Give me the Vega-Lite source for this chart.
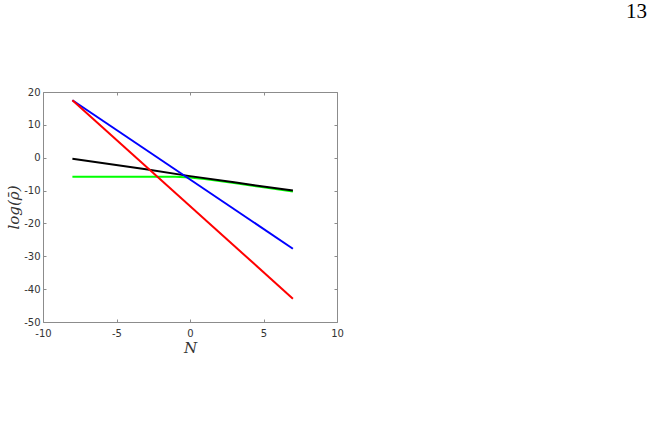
{
  "$schema": "https://vega.github.io/schema/vega-lite/v6.json",
  "autosize": {"type": "none"},
  "width": 294,
  "height": 230,
  "padding": {"left": 43, "top": 92, "right": 318, "bottom": 107},
  "background": "white",
  "title": {
    "text": "13",
    "orient": "top",
    "anchor": "end",
    "frame": "group",
    "font": "Liberation Serif",
    "fontSize": 21,
    "fontWeight": "normal",
    "color": "#000000",
    "baseline": "alphabetic",
    "offset": 48,
    "dx": 310
  },
  "config": {
    "view": {"stroke": "#8c8c8c", "strokeWidth": 1},
    "axis": {
      "grid": false,
      "domain": false,
      "labelFlush": false,
      "labelExpr": "toString(datum.value)",
      "tickColor": "#8c8c8c",
      "tickSize": -3,
      "labelFont": "DejaVu Sans",
      "labelFontSize": 10,
      "labelColor": "#333333",
      "titleFont": "DejaVu Serif",
      "titleFontStyle": "italic",
      "titleFontWeight": "normal",
      "titleColor": "#333333",
      "titleFontSize": 15
    }
  },
  "data": {
    "values": [
      {"series": "green", "N": -8, "logrho": -5.8},
      {"series": "green", "N": -1, "logrho": -5.8},
      {"series": "green", "N": 0, "logrho": -6.0},
      {"series": "green", "N": 1, "logrho": -6.5},
      {"series": "green", "N": 3, "logrho": -7.7},
      {"series": "green", "N": 5, "logrho": -9.0},
      {"series": "green", "N": 7, "logrho": -10.3},
      {"series": "black", "N": -8, "logrho": -0.35},
      {"series": "black", "N": -3, "logrho": -3.5},
      {"series": "black", "N": 0, "logrho": -5.6},
      {"series": "black", "N": 3, "logrho": -7.5},
      {"series": "black", "N": 7, "logrho": -10.0},
      {"series": "blue", "N": -8, "logrho": 17.5},
      {"series": "blue", "N": 7, "logrho": -27.7},
      {"series": "red", "N": -8, "logrho": 17.5},
      {"series": "red", "N": 7, "logrho": -42.9}
    ]
  },
  "layer": [
    {
      "mark": {"type": "line", "strokeWidth": 2, "clip": true},
      "encoding": {
        "x": {
          "field": "N",
          "type": "quantitative",
          "scale": {"domain": [-10, 10], "nice": false, "zero": false},
          "axis": {"orient": "bottom", "values": [-10, -5, 0, 5, 10], "title": "N", "labelPadding": 9, "titlePadding": 2}
        },
        "y": {
          "field": "logrho",
          "type": "quantitative",
          "scale": {"domain": [-50, 20], "nice": false, "zero": false},
          "axis": {"orient": "left", "values": [-50, -40, -30, -20, -10, 0, 10, 20], "title": "log(ρ̄)", "labelPadding": 6, "titlePadding": 2}
        },
        "color": {
          "field": "series",
          "type": "nominal",
          "scale": {"domain": ["green", "black", "blue", "red"], "range": ["#00ff00", "#000000", "#0000ff", "#ff0000"]},
          "legend": null
        }
      }
    },
    {
      "mark": {"type": "line", "opacity": 0},
      "encoding": {
        "x": {
          "field": "N",
          "type": "quantitative",
          "scale": {"domain": [-10, 10], "nice": false, "zero": false},
          "axis": {"orient": "top", "values": [-10, -5, 0, 5, 10], "labels": false, "title": null}
        },
        "y": {
          "field": "logrho",
          "type": "quantitative",
          "scale": {"domain": [-50, 20], "nice": false, "zero": false},
          "axis": {"orient": "right", "values": [-50, -40, -30, -20, -10, 0, 10, 20], "labels": false, "title": null}
        },
        "detail": {"field": "series"}
      }
    }
  ],
  "resolve": {"axis": {"x": "independent", "y": "independent"}}
}
